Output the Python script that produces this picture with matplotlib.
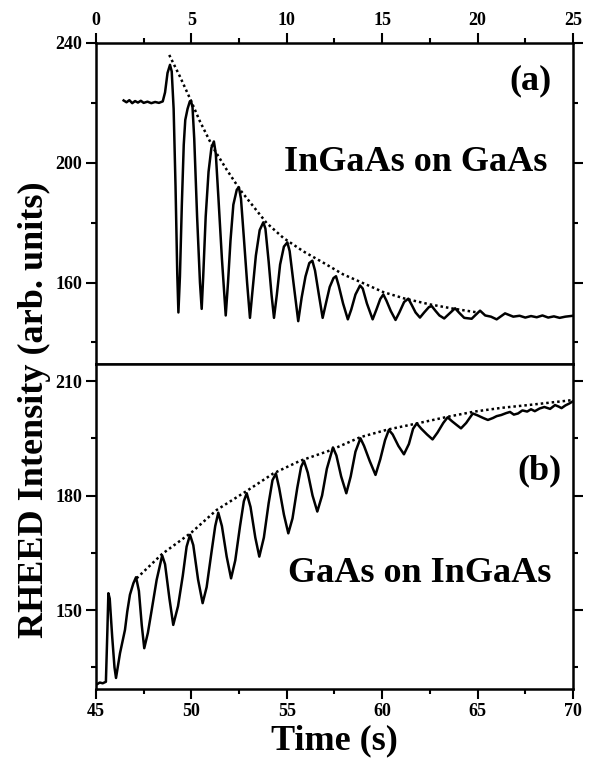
import matplotlib
matplotlib.use('Agg')
import matplotlib.pyplot as plt
from matplotlib.ticker import MultipleLocator

# (a) InGaAs on GaAs : time (s) vs RHEED intensity
top_t = [1.45, 1.6, 1.75, 1.9, 2.05, 2.2, 2.35, 2.5, 2.7, 2.9, 3.1, 3.3, 3.5, 3.62,
         3.75, 3.88, 3.97, 4.07, 4.17, 4.26, 4.32, 4.4, 4.5, 4.6, 4.68, 4.8, 4.92, 4.98, 5.06,
         5.15, 5.3, 5.45, 5.54, 5.62, 5.75, 5.9, 6.05, 6.18, 6.28, 6.42, 6.6, 6.8,
         6.92, 7.05, 7.2, 7.38, 7.49, 7.6, 7.75, 7.92, 8.07, 8.2, 8.38, 8.58, 8.77,
         8.88, 9.05, 9.2, 9.33, 9.48, 9.65, 9.85, 10.03, 10.15, 10.35, 10.6,
         10.78, 10.98, 11.18, 11.34, 11.48, 11.68, 11.88, 12.05, 12.25, 12.45, 12.58,
         12.72, 12.95, 13.2, 13.38, 13.6, 13.84, 13.98, 14.2, 14.5, 14.7, 14.9, 15.06,
         15.22, 15.45, 15.7, 15.9, 16.15, 16.37, 16.55, 16.75, 16.98, 17.2, 17.45, 17.6,
         17.8, 18.0, 18.25, 18.5, 18.82, 19.05, 19.3, 19.69, 19.9, 20.13, 20.4, 20.7,
         21.0, 21.44, 21.87, 22.2, 22.5, 22.8, 23.1, 23.4, 23.7, 24.0, 24.3, 24.6, 25.0]
top_v = [220.8, 220.2, 220.9, 219.9, 220.6, 220.1, 220.7, 220.0, 220.4, 219.9, 220.3, 220.0, 220.5, 223.5,
         230.0, 232.7, 230.5, 218.0, 192.0, 163.0, 150.0, 162.0, 186.0, 206.0, 214.3, 218.0, 220.5, 220.7, 218.5,
         208.0, 182.0, 160.0, 151.2, 162.0, 182.0, 197.0, 205.0, 207.1, 203.0, 188.0, 168.0, 149.0,
         160.0, 174.0, 186.0, 191.0, 191.8, 188.0, 175.0, 160.0, 148.2, 157.0, 169.0, 177.5, 180.1,
         178.0, 167.0, 156.0, 148.2, 156.0, 166.0, 172.0, 173.4, 170.5, 160.0, 147.1,
         155.0, 162.0, 166.5, 167.3, 164.0, 156.0, 148.2, 153.0, 158.5, 161.5, 162.1,
         159.0, 153.0, 147.7, 151.0, 156.0, 159.0, 158.0, 153.0, 147.7, 151.0, 154.5, 156.0,
         154.0, 150.5, 147.5, 150.0, 153.5, 154.6, 152.5, 150.0, 148.3, 150.0, 151.8, 152.1,
         150.5, 149.0, 148.0, 149.5, 151.4, 149.8, 148.2, 147.9, 149.2, 150.6, 149.0, 148.6,
         147.7, 149.7, 148.6, 148.9, 148.3, 148.8, 148.4, 149.0, 148.3, 148.7, 148.2, 148.6, 148.9]

# dotted envelope of panel (a)
top_fit_t = [3.84, 4.4, 4.96, 5.45, 6.15, 6.85, 7.55, 8.25, 8.94, 9.82, 10.87, 11.92,
             12.96, 14.0, 15.06, 16.2, 17.5, 18.7, 20.0]
top_fit_v = [236.0, 228.8, 221.0, 213.8, 204.9, 197.7, 191.0, 185.4, 179.9, 174.9, 170.4, 166.6,
             162.7, 159.8, 156.8, 154.6, 152.7, 151.3, 150.0]

# (b) GaAs on InGaAs
bot_t = [45.07, 45.2, 45.35, 45.52, 45.6, 45.65, 45.72, 45.85, 45.97, 46.05, 46.26, 46.52,
         46.64, 46.78, 46.96, 47.1, 47.25, 47.4, 47.53, 47.72, 47.92, 48.18, 48.47, 48.62,
         48.85, 49.05, 49.3, 49.55, 49.75, 49.93, 50.1, 50.35, 50.59, 50.8, 51.05, 51.25,
         51.41, 51.6, 51.85, 52.08, 52.3, 52.55, 52.75, 52.9, 53.1, 53.35, 53.56, 53.8,
         54.05, 54.25, 54.43, 54.6, 54.85, 55.08, 55.3, 55.55, 55.75, 55.9, 56.1, 56.35,
         56.6, 56.85, 57.1, 57.42, 57.6, 57.85, 58.12, 58.35, 58.6, 58.86, 59.05, 59.35,
         59.65, 59.9, 60.15, 60.35, 60.55, 60.85, 61.14, 61.4, 61.62, 61.81, 62.05, 62.35,
         62.64, 62.9, 63.2, 63.43, 63.65, 63.9, 64.13, 64.4, 64.75, 65.0, 65.3, 65.54,
         65.8, 66.0, 66.24, 66.5, 66.7, 66.9, 67.12, 67.35, 67.6, 67.8, 68.0, 68.25,
         68.5, 68.8, 69.06, 69.25, 69.4, 69.6, 69.8, 69.97]
bot_v = [130.6, 131.0, 130.8, 131.2, 145.0, 154.4, 153.0, 143.0, 135.0, 132.2, 138.7, 144.8,
         149.6, 154.0, 157.0, 158.6, 155.0, 146.0, 140.0, 144.0, 150.0, 157.9, 164.3, 162.0,
         153.0, 146.1, 151.0, 159.0, 166.6, 169.7, 167.0, 158.0, 151.8, 156.0, 165.0, 172.0,
         175.5, 172.0, 164.0, 158.3, 163.0, 172.0, 178.5, 180.6, 177.0, 169.0, 164.0, 169.0,
         178.0, 184.0, 185.8, 182.0, 175.0, 170.1, 174.0, 182.0, 187.5, 189.1, 186.0, 180.0,
         175.8, 180.0, 187.0, 192.6, 190.5, 185.0, 180.6, 185.0, 191.5, 195.0, 193.0, 189.0,
         185.4, 189.5, 194.5, 197.2, 196.0, 193.0, 190.8, 193.5, 197.5, 198.9, 197.5, 196.0,
         194.7, 196.5, 199.0, 200.5, 199.5, 198.5, 197.6, 199.0, 201.5, 201.0, 200.3, 199.8,
         200.3, 200.8, 201.1, 201.6, 201.9, 201.2, 201.5, 202.3, 202.0, 202.6, 202.1, 202.8,
         203.2, 202.7, 203.7, 203.3, 202.9, 203.6, 204.1, 204.6]

# dotted envelope of panel (b)
bot_fit_t = [47.13, 48.47, 50.0, 51.32, 52.9, 54.3, 55.7, 57.26, 58.86, 60.3, 61.84,
             63.4, 64.84, 66.3, 67.65, 69.97]
bot_fit_v = [158.3, 164.7, 170.3, 176.2, 181.2, 185.8, 189.1, 191.8, 195.3, 197.3, 198.9,
             200.6, 202.0, 203.0, 203.7, 205.0]

plt.rcParams['font.family'] = ['Liberation Serif', 'DejaVu Serif']
plt.rcParams['font.weight'] = 'bold'

fig = plt.figure(figsize=(5.95, 7.69), dpi=100)
ax1 = fig.add_axes([0.1613, 0.5267, 0.8017, 0.4174])
ax2 = fig.add_axes([0.1613, 0.104, 0.8017, 0.4226])

lw = 1.8
ax1.plot(top_t, top_v, color='black', lw=lw)
ax1.plot(top_fit_t, top_fit_v, color='black', lw=lw, linestyle=(0, (1, 1.2)))
ax2.plot(bot_t, bot_v, color='black', lw=lw)
ax2.plot(bot_fit_t, bot_fit_v, color='black', lw=lw, linestyle=(0, (1, 1.2)))

ax1.set_xlim(0, 25)
ax1.set_ylim(132.8, 240)
ax2.set_xlim(45, 70)
ax2.set_ylim(129.3, 214.45)

ax1.xaxis.set_major_locator(MultipleLocator(5))
ax1.xaxis.set_minor_locator(MultipleLocator(2.5))
ax1.set_yticks([160, 200, 240])
ax1.set_yticks([140, 180, 220], minor=True)
ax2.xaxis.set_major_locator(MultipleLocator(5))
ax2.xaxis.set_minor_locator(MultipleLocator(2.5))
ax2.set_yticks([150, 180, 210])
ax2.set_yticks([135, 165, 195], minor=True)

for ax in (ax1, ax2):
    for s in ax.spines.values():
        s.set_linewidth(1.8)
    ax.tick_params(which='major', direction='out', length=7, width=1.5, labelsize=13, pad=3)
    ax.tick_params(which='minor', direction='out', length=3.5, width=1.5)
    ax.tick_params(axis='y', which='both', left=True, right=True, labelright=False)

ax1.tick_params(axis='x', which='both', top=True, bottom=False, labeltop=True, labelbottom=False)
ax2.tick_params(axis='x', which='both', top=False, bottom=True)

ax1.text(0.956, 0.883, '(a)', transform=ax1.transAxes, ha='right', va='center',
         fontsize=26, fontweight='bold')
ax1.text(0.671, 0.601, 'InGaAs on GaAs', transform=ax1.transAxes, ha='center', va='baseline',
         fontsize=26, fontweight='bold')
ax2.text(0.977, 0.671, '(b)', transform=ax2.transAxes, ha='right', va='center',
         fontsize=26, fontweight='bold')
ax2.text(0.679, 0.329, 'GaAs on InGaAs', transform=ax2.transAxes, ha='center', va='baseline',
         fontsize=26, fontweight='bold')

fig.text(0.058, 0.467, 'RHEED Intensity (arb. units)', rotation=90, ha='center', va='center',
         fontsize=26, fontweight='bold')
fig.text(0.562, 0.036, 'Time (s)', ha='center', va='center', fontsize=26, fontweight='bold')

plt.savefig('out.png', dpi=100)
